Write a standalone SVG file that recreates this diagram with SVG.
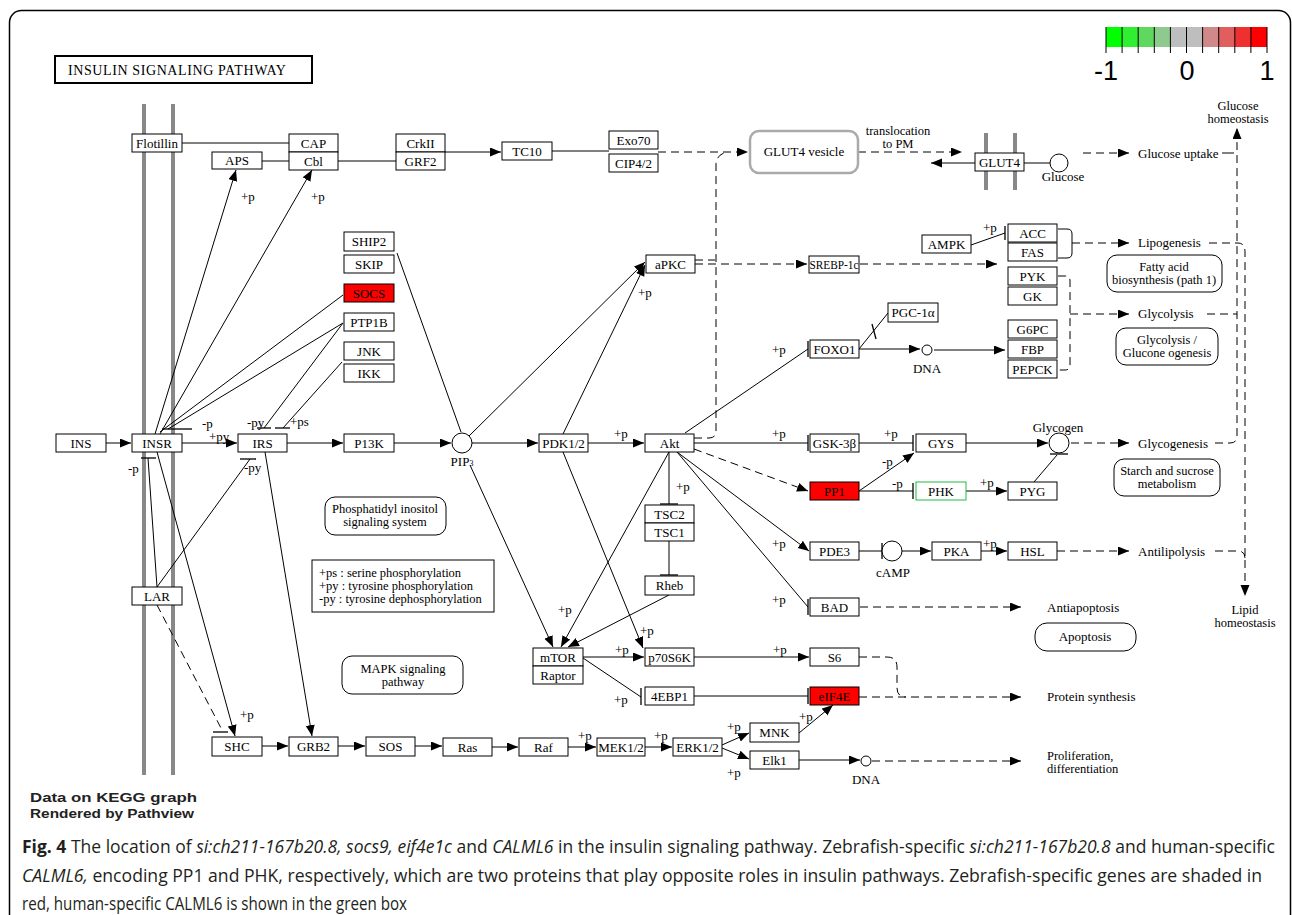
<svg xmlns="http://www.w3.org/2000/svg" width="1292" height="915" viewBox="0 0 1292 915">
<style>
.n rect{fill:#fff;stroke:#000;stroke-width:1}
.n text,.t{font-family:"Liberation Serif",serif;font-size:13px;fill:#000}
.n text{text-anchor:middle}
.c{text-anchor:middle}
.s2{font-size:12.5px}
.red rect{fill:#ff0000}
.grn rect{stroke:#22bb44}
.l{fill:none;stroke:#000;stroke-width:1}
.a{fill:none;stroke:#000;stroke-width:1;marker-end:url(#ah)}
.d{fill:none;stroke:#000;stroke-width:1;stroke-dasharray:8,5}
.da{fill:none;stroke:#000;stroke-width:1;stroke-dasharray:8,5;marker-end:url(#ah)}
.b{fill:none;stroke:#000;stroke-width:1.3}
.mem{stroke:#888;stroke-width:4}
.cap{font-family:"Open Sans","Liberation Sans",sans-serif;font-size:18px;fill:#231f20}
</style>
<defs>
<marker id="ah" markerUnits="userSpaceOnUse" markerWidth="12" markerHeight="10" refX="11" refY="4.5" orient="auto"><path d="M0,0 L11,4.5 L0,9 z" fill="#000"/></marker>
</defs>
<rect x="0" y="0" width="1292" height="915" fill="#fff"/>
<rect x="9.5" y="10.5" width="1281" height="930" rx="12" fill="none" stroke="#000" stroke-width="1.5"/>

<g id="title"><rect x="55" y="56" width="257" height="27" fill="#fff" stroke="#000" stroke-width="2"/><text x="68" y="75" class="t" style="font-size:14px;letter-spacing:0.6px">INSULIN  SIGNALING  PATHWAY</text></g>

<g id="legend-scale">
<rect x="1106" y="27" width="16.1" height="20" fill="#00ff00"/>
<rect x="1122.1" y="27" width="16.1" height="20" fill="#30ee30"/>
<rect x="1138.2" y="27" width="16.1" height="20" fill="#5ed85e"/>
<rect x="1154.3" y="27" width="16.1" height="20" fill="#8ec98e"/>
<rect x="1170.4" y="27" width="16.1" height="20" fill="#bebebe"/>
<rect x="1186.5" y="27" width="16.1" height="20" fill="#bebebe"/>
<rect x="1202.6" y="27" width="16.1" height="20" fill="#d08888"/>
<rect x="1218.7" y="27" width="16.1" height="20" fill="#e05e5e"/>
<rect x="1234.8" y="27" width="16.1" height="20" fill="#ef3030"/>
<rect x="1250.9" y="27" width="16.1" height="20" fill="#ff0000"/>
<path d="M1106,27V53M1122.1,27V53M1138.2,27V53M1154.3,27V53M1170.4,27V53M1186.5,27V53M1202.6,27V53M1218.7,27V53M1234.8,27V53M1250.9,27V53M1267,27V53" stroke="#000" stroke-width="1"/>
<text x="1106" y="80" font-family="Liberation Sans,sans-serif" font-size="27" text-anchor="middle">-1</text>
<text x="1187" y="80" font-family="Liberation Sans,sans-serif" font-size="27" text-anchor="middle">0</text>
<text x="1267" y="80" font-family="Liberation Sans,sans-serif" font-size="27" text-anchor="middle">1</text>
</g>

<g id="membranes">
<line class="mem" x1="144" y1="104" x2="144" y2="775"/>
<line class="mem" x1="173" y1="104" x2="173" y2="775"/>
<line class="mem" x1="986" y1="133" x2="986" y2="190"/>
<line class="mem" x1="1015" y1="133" x2="1015" y2="190"/>
</g>

<g id="connectors">
<path class="l" d="M182,143H289"/>
<path class="l" d="M262,161H289"/>
<path class="l" d="M338,161H396"/>
<path class="a" d="M445,152H501"/>
<path class="l" d="M552,151H609"/>
<path class="da" d="M658,152H748"/>
<path class="d" d="M694,438H709Q716,438 716,431V165Q716,156 724,153"/>
<path class="d" d="M695,260H715"/>
<path class="da" d="M695,264H807"/>
<path class="da" d="M858,152H962"/>
<path class="a" d="M975,163H931"/>
<path class="l" d="M1024,163H1050"/>
<path class="da" d="M1083,153H1129"/>
<path class="l" d="M1222,153H1234"/>
<path class="da" d="M1215,443H1230Q1237,443 1237,436V128"/>
<path class="d" d="M1209,243H1238Q1245,243 1245,252V560"/>
<path class="da" d="M1245,560V596"/>
<path class="d" d="M1207,314H1237"/>
<path class="d" d="M1215,551H1238Q1245,551 1245,558"/>
<path class="a" d="M106,443H131"/>
<path class="a" d="M182,443H237"/>
<path class="a" d="M287,443H343"/>
<path class="a" d="M394,443H451"/>
<path class="a" d="M472,443H538"/>
<path class="a" d="M588,443H644"/>
<path class="a" d="M155,434L236,170"/>
<path class="a" d="M160,434L312,170"/>
<path class="l" d="M343,295L160,432"/>
<path class="l" d="M343,323L168,429"/>
<path class="b" d="M162,429H192"/>
<path class="l" d="M343,323L264,428"/>
<path class="b" d="M257,428H271"/>
<path class="l" d="M342,362L283,428"/>
<path class="b" d="M275,428H290"/>
<path class="l" d="M157,587L148,458"/>
<path class="b" d="M141,458H156"/>
<path class="l" d="M157,587L250,459"/>
<path class="b" d="M240,459H256"/>
<path class="a" d="M157,452L235,736"/>
<path class="a" d="M265,452L312,736"/>
<path class="d" d="M157,605L222,730"/>
<path class="b" d="M213,732H228"/>
<path class="l" d="M397,253L461,432"/>
<path class="a" d="M563,434L645,265"/>
<path class="a" d="M469,436L645,262"/>
<path class="l" d="M685,433L808,349"/>
<path class="b" d="M808,341V357"/>
<path class="l" d="M694,443H808"/>
<path class="b" d="M808,435V451"/>
<path class="da" d="M694,449L808,491"/>
<path class="a" d="M677,452L809,551"/>
<path class="l" d="M677,452L808,607"/>
<path class="b" d="M808,599V615"/>
<path class="l" d="M669,452V504"/>
<path class="b" d="M660,504H678"/>
<path class="l" d="M669,541V575"/>
<path class="b" d="M660,575H678"/>
<path class="a" d="M669,595L568,647"/>
<path class="a" d="M669,452L561,647"/>
<path class="a" d="M470,465L553,647"/>
<path class="a" d="M563,452L643,648"/>
<path class="a" d="M859,349H920"/>
<path class="a" d="M934,350H1005"/>
<path class="l" d="M859,349L888,313"/>
<path class="b" d="M872,324L876,339"/>
<path class="l" d="M971,245L1005,233"/>
<path class="b" d="M1005,226V240"/>
<path class="l" d="M1058,229H1067Q1072,229 1072,234V253Q1072,258 1067,258H1058"/>
<path class="da" d="M1072,243H1129"/>
<path class="da" d="M860,264H997"/>
<path class="d" d="M1058,276H1065Q1070,276 1070,281V365Q1070,370 1065,370H1058"/>
<path class="da" d="M1070,314H1129"/>
<path class="l" d="M859,443H913"/>
<path class="b" d="M913,435V451"/>
<path class="a" d="M966,443H1048"/>
<path class="da" d="M1071,443H1129"/>
<path class="a" d="M859,491L914,453"/>
<path class="l" d="M859,491H913"/>
<path class="b" d="M913,483V499"/>
<path class="a" d="M966,491H1007"/>
<path class="l" d="M1034,482L1057,455"/>
<path class="b" d="M1050,454H1068"/>
<path class="l" d="M859,551H882"/>
<path class="b" d="M882,543V559"/>
<path class="a" d="M902,551H931"/>
<path class="a" d="M981,551H1007"/>
<path class="da" d="M1057,551H1129"/>
<path class="da" d="M860,607H1021"/>
<path class="a" d="M583,657H644"/>
<path class="l" d="M583,658L641,697"/>
<path class="b" d="M641,688V705"/>
<path class="a" d="M694,657H809"/>
<path class="l" d="M694,696H808"/>
<path class="b" d="M808,688V704"/>
<path class="d" d="M859,657H887Q897,657 897,667V688Q897,697 906,697"/>
<path class="da" d="M859,697H1021"/>
<path class="a" d="M262,746H288"/>
<path class="a" d="M338,746H365"/>
<path class="a" d="M415,746H442"/>
<path class="a" d="M492,747H518"/>
<path class="a" d="M568,747H596"/>
<path class="a" d="M645,747H672"/>
<path class="a" d="M722,745L749,733"/>
<path class="a" d="M722,748L749,759"/>
<path class="a" d="M799,733L833,705"/>
<path class="a" d="M799,760H860"/>
<path class="da" d="M872,761H1021"/>
</g>

<g id="compounds">
<circle cx="462" cy="443" r="10" fill="#fff" stroke="#000"/>
<circle cx="1059" cy="163" r="9" fill="#fff" stroke="#000"/>
<circle cx="927" cy="350" r="5" fill="#fff" stroke="#000"/>
<circle cx="1059" cy="443" r="10" fill="#fff" stroke="#000"/>
<circle cx="892" cy="551" r="10" fill="#fff" stroke="#000"/>
<circle cx="866" cy="761" r="5" fill="#fff" stroke="#000"/>
</g>

<g id="nodes" class="n">
<g id="Flotillin"><rect x="132" y="134" width="50" height="18"/><text x="157" y="147.5">Flotillin</text></g>
<g id="CAP"><rect x="289" y="134" width="49" height="18"/><text x="313.5" y="147.5">CAP</text></g>
<g id="Cbl"><rect x="289" y="152" width="49" height="18"/><text x="313.5" y="165.5">Cbl</text></g>
<g id="APS"><rect x="212" y="152" width="50" height="17"/><text x="237" y="165">APS</text></g>
<g id="CrkII"><rect x="396" y="134" width="49" height="18"/><text x="420.5" y="147.5">CrkII</text></g>
<g id="GRF2"><rect x="396" y="152" width="49" height="18"/><text x="420.5" y="165.5">GRF2</text></g>
<g id="TC10"><rect x="502" y="142" width="50" height="18"/><text x="527" y="155.5">TC10</text></g>
<g id="Exo70"><rect x="609" y="131" width="49" height="18"/><text x="633.5" y="144.5">Exo70</text></g>
<g id="CIP4"><rect x="609" y="154" width="49" height="18"/><text x="633.5" y="167.5">CIP4/2</text></g>
<g id="GLUT4"><rect x="975" y="153" width="49" height="18"/><text x="999.5" y="166.5">GLUT4</text></g>
<g id="SHIP2"><rect x="344" y="232" width="50" height="19"/><text x="369" y="246">SHIP2</text></g>
<g id="SKIP"><rect x="344" y="255" width="50" height="18"/><text x="369" y="268.5">SKIP</text></g>
<g id="SOCS" class="red"><rect x="344" y="284" width="50" height="18"/><text x="369" y="297.5">SOCS</text></g>
<g id="PTP1B"><rect x="344" y="313" width="50" height="18"/><text x="369" y="326.5">PTP1B</text></g>
<g id="JNK"><rect x="344" y="342" width="50" height="18"/><text x="369" y="355.5">JNK</text></g>
<g id="IKK"><rect x="344" y="364" width="50" height="18"/><text x="369" y="377.5">IKK</text></g>
<g id="INS"><rect x="56" y="434" width="50" height="18"/><text x="81" y="447.5">INS</text></g>
<g id="INSR"><rect x="132" y="434" width="50" height="18"/><text x="157" y="447.5">INSR</text></g>
<g id="IRS"><rect x="238" y="434" width="49" height="18"/><text x="262.5" y="447.5">IRS</text></g>
<g id="P13K"><rect x="344" y="434" width="50" height="18"/><text x="369" y="447.5">P13K</text></g>
<g id="PDK12"><rect x="539" y="434" width="49" height="18"/><text x="563.5" y="447.5">PDK1/2</text></g>
<g id="Akt"><rect x="645" y="434" width="49" height="18"/><text x="669.5" y="447.5">Akt</text></g>
<g id="aPKC"><rect x="646" y="255" width="49" height="18"/><text x="670.5" y="268.5">aPKC</text></g>
<g id="SREBP"><rect x="809" y="256" width="50" height="17"/><text x="834" y="269" textLength="49" lengthAdjust="spacingAndGlyphs">SREBP-1c</text></g>
<g id="AMPK"><rect x="922" y="235" width="49" height="18"/><text x="946.5" y="248.5">AMPK</text></g>
<g id="ACC"><rect x="1008" y="224" width="49" height="18"/><text x="1032.5" y="237.5">ACC</text></g>
<g id="FAS"><rect x="1008" y="243" width="49" height="18"/><text x="1032.5" y="256.5">FAS</text></g>
<g id="PYK"><rect x="1008" y="267" width="49" height="18"/><text x="1032.5" y="280.5">PYK</text></g>
<g id="GK"><rect x="1008" y="287" width="49" height="18"/><text x="1032.5" y="300.5">GK</text></g>
<g id="G6PC"><rect x="1008" y="320" width="49" height="18"/><text x="1032.5" y="333.5">G6PC</text></g>
<g id="FBP"><rect x="1008" y="340" width="49" height="18"/><text x="1032.5" y="353.5">FBP</text></g>
<g id="PEPCK"><rect x="1008" y="360" width="49" height="18"/><text x="1032.5" y="373.5">PEPCK</text></g>
<g id="FOXO1"><rect x="810" y="340" width="49" height="18"/><text x="834.5" y="353.5">FOXO1</text></g>
<g id="PGC1a"><rect x="888" y="303" width="50" height="19"/><text x="913" y="317">PGC-1α</text></g>
<g id="GSK3b"><rect x="810" y="434" width="49" height="18"/><text x="834.5" y="447.5">GSK-3β</text></g>
<g id="GYS"><rect x="916" y="434" width="50" height="18"/><text x="941" y="447.5">GYS</text></g>
<g id="PP1" class="red"><rect x="810" y="482" width="49" height="18"/><text x="834.5" y="495.5">PP1</text></g>
<g id="PHK" class="grn"><rect x="916" y="482" width="50" height="18"/><text x="941" y="495.5">PHK</text></g>
<g id="PYG"><rect x="1008" y="482" width="49" height="18"/><text x="1032.5" y="495.5">PYG</text></g>
<g id="TSC2"><rect x="645" y="505" width="49" height="18"/><text x="669.5" y="518.5">TSC2</text></g>
<g id="TSC1"><rect x="645" y="523" width="49" height="18"/><text x="669.5" y="536.5">TSC1</text></g>
<g id="Rheb"><rect x="645" y="576" width="49" height="19"/><text x="669.5" y="590">Rheb</text></g>
<g id="PDE3"><rect x="810" y="542" width="49" height="18"/><text x="834.5" y="555.5">PDE3</text></g>
<g id="PKA"><rect x="932" y="542" width="49" height="18"/><text x="956.5" y="555.5">PKA</text></g>
<g id="HSL"><rect x="1008" y="542" width="49" height="18"/><text x="1032.5" y="555.5">HSL</text></g>
<g id="BAD"><rect x="810" y="598" width="49" height="18"/><text x="834.5" y="611.5">BAD</text></g>
<g id="LAR"><rect x="132" y="587" width="50" height="18"/><text x="157" y="600.5">LAR</text></g>
<g id="mTOR"><rect x="533" y="648" width="50" height="18"/><text x="558" y="661.5">mTOR</text></g>
<g id="Raptor"><rect x="533" y="666" width="50" height="18"/><text x="558" y="679.5">Raptor</text></g>
<g id="p70S6K"><rect x="645" y="648" width="49" height="18"/><text x="669.5" y="661.5">p70S6K</text></g>
<g id="EBP1"><rect x="645" y="687" width="49" height="18"/><text x="669.5" y="700.5">4EBP1</text></g>
<g id="S6"><rect x="810" y="648" width="49" height="18"/><text x="834.5" y="661.5">S6</text></g>
<g id="eIF4E" class="red"><rect x="810" y="687" width="49" height="18"/><text x="834.5" y="700.5">eIF4E</text></g>
<g id="SHC"><rect x="212" y="737" width="50" height="19"/><text x="237" y="751">SHC</text></g>
<g id="GRB2"><rect x="289" y="737" width="49" height="19"/><text x="313.5" y="751">GRB2</text></g>
<g id="SOS"><rect x="366" y="737" width="49" height="19"/><text x="390.5" y="751">SOS</text></g>
<g id="Ras"><rect x="443" y="738" width="49" height="18"/><text x="467.5" y="751.5">Ras</text></g>
<g id="Raf"><rect x="519" y="738" width="49" height="18"/><text x="543.5" y="751.5">Raf</text></g>
<g id="MEK"><rect x="597" y="738" width="48" height="18"/><text x="621" y="751.5">MEK1/2</text></g>
<g id="ERK"><rect x="673" y="738" width="49" height="18"/><text x="697.5" y="751.5">ERK1/2</text></g>
<g id="MNK"><rect x="750" y="723" width="49" height="19"/><text x="774.5" y="737">MNK</text></g>
<g id="Elk1"><rect x="750" y="751" width="49" height="18"/><text x="774.5" y="764.5">Elk1</text></g>
</g>

<g id="maps">
<rect x="750" y="131" width="108" height="42" rx="9" fill="#fff" stroke="#aaa" stroke-width="2.5"/>
<text x="804" y="156" class="t c">GLUT4 vesicle</text>
<rect x="1107" y="255" width="115" height="37" rx="10" fill="#fff" stroke="#000"/>
<text x="1164" y="271" class="t c s2">Fatty acid</text><text x="1164" y="284" class="t c s2">biosynthesis (path 1)</text>
<rect x="1116" y="328" width="102" height="37" rx="10" fill="#fff" stroke="#000"/>
<text x="1167" y="344" class="t c s2">Glycolysis /</text><text x="1167" y="357" class="t c s2">Glucone ogenesis</text>
<rect x="1114" y="459" width="106" height="37" rx="10" fill="#fff" stroke="#000"/>
<text x="1167" y="475" class="t c s2">Starch and sucrose</text><text x="1167" y="488" class="t c s2">metabolism</text>
<rect x="1035" y="623" width="101" height="28" rx="12" fill="#fff" stroke="#000"/>
<text x="1085" y="641" class="t c">Apoptosis</text>
<rect x="325" y="497" width="121" height="38" rx="10" fill="#fff" stroke="#000"/>
<text x="385" y="513" class="t c s2">Phosphatidyl inositol</text><text x="385" y="526" class="t c s2">signaling system</text>
<rect x="342" y="656" width="121" height="38" rx="10" fill="#fff" stroke="#000"/>
<text x="403" y="673" class="t c s2">MAPK signaling</text><text x="403" y="686" class="t c s2">pathway</text>
<rect x="312" y="560" width="182" height="52" fill="#fff" stroke="#000"/>
<text x="319" y="577" class="t s2">+ps : serine phosphorylation</text>
<text x="319" y="590" class="t s2">+py : tyrosine phosphorylation</text>
<text x="319" y="603" class="t s2">-py : tyrosine dephosphorylation</text>
</g>

<g id="labels">
<text x="898" y="135" class="t c s2">translocation</text><text x="898" y="148" class="t c s2">to PM</text>
<text x="1063" y="181" class="t c">Glucose</text>
<text x="1138" y="158" class="t">Glucose uptake</text>
<text x="1238" y="110" class="t c s2">Glucose</text><text x="1238" y="123" class="t c s2">homeostasis</text>
<text x="1138" y="247" class="t">Lipogenesis</text>
<text x="1138" y="318" class="t">Glycolysis</text>
<text x="1058" y="432" class="t c">Glycogen</text>
<text x="1138" y="448" class="t">Glycogenesis</text>
<text x="1138" y="556" class="t">Antilipolysis</text>
<text x="1245" y="614" class="t c s2">Lipid</text><text x="1245" y="627" class="t c s2">homeostasis</text>
<text x="1047" y="612" class="t">Antiapoptosis</text>
<text x="1047" y="701" class="t">Protein synthesis</text>
<text x="1047" y="760" class="t s2">Proliferation,</text><text x="1047" y="773" class="t s2">differentiation</text>
<text x="866" y="784" class="t c">DNA</text>
<text x="927" y="373" class="t c">DNA</text>
<text x="893" y="577" class="t c">cAMP</text>
<text x="462" y="466" class="t c">PIP<tspan font-size="8">3</tspan></text>
<text x="241" y="201" class="t">+p</text>
<text x="311" y="201" class="t">+p</text>
<text x="202" y="428" class="t">-p</text>
<text x="209" y="441" class="t">+py</text>
<text x="247" y="427" class="t">-py</text>
<text x="290" y="426" class="t">+ps</text>
<text x="128" y="473" class="t">-p</text>
<text x="244" y="472" class="t">-py</text>
<text x="240" y="719" class="t">+p</text>
<text x="638" y="297" class="t">+p</text>
<text x="614" y="438" class="t">+p</text>
<text x="772" y="438" class="t">+p</text>
<text x="772" y="354" class="t">+p</text>
<text x="676" y="491" class="t">+p</text>
<text x="772" y="548" class="t">+p</text>
<text x="772" y="604" class="t">+p</text>
<text x="558" y="614" class="t">+p</text>
<text x="640" y="635" class="t">+p</text>
<text x="615" y="654" class="t">+p</text>
<text x="614" y="704" class="t">+p</text>
<text x="773" y="654" class="t">+p</text>
<text x="578" y="740" class="t">+p</text>
<text x="654" y="740" class="t">+p</text>
<text x="727" y="731" class="t">+p</text>
<text x="727" y="777" class="t">+p</text>
<text x="799" y="721" class="t">+p</text>
<text x="884" y="438" class="t">+p</text>
<text x="882" y="466" class="t">-p</text>
<text x="892" y="488" class="t">-p</text>
<text x="980" y="487" class="t">+p</text>
<text x="983" y="548" class="t">+p</text>
<text x="983" y="232" class="t">+p</text>
</g>

<g id="footer">
<text x="30" y="802" font-family="Liberation Sans,sans-serif" font-size="13" font-weight="bold" fill="#222" textLength="167" lengthAdjust="spacingAndGlyphs">Data on KEGG graph</text>
<text x="30" y="818" font-family="Liberation Sans,sans-serif" font-size="13" font-weight="bold" fill="#222" textLength="164" lengthAdjust="spacingAndGlyphs">Rendered by Pathview</text>
<text x="22" y="853" class="cap" textLength="1253" lengthAdjust="spacingAndGlyphs"><tspan font-weight="bold">Fig. 4</tspan> The location of <tspan font-style="italic">si:ch211-167b20.8, socs9, eif4e1c</tspan> and <tspan font-style="italic">CALML6</tspan> in the insulin signaling pathway. Zebrafish-specific <tspan font-style="italic">si:ch211-167b20.8</tspan> and human-specific</text>
<text x="22" y="882" class="cap" textLength="1240" lengthAdjust="spacingAndGlyphs"><tspan font-style="italic">CALML6,</tspan> encoding PP1 and PHK, respectively, which are two proteins that play opposite roles in insulin pathways. Zebrafish-specific genes are shaded in</text>
<text x="22" y="910" class="cap" textLength="385" lengthAdjust="spacingAndGlyphs">red, human-specific CALML6 is shown in the green box</text>
</g>
</svg>
